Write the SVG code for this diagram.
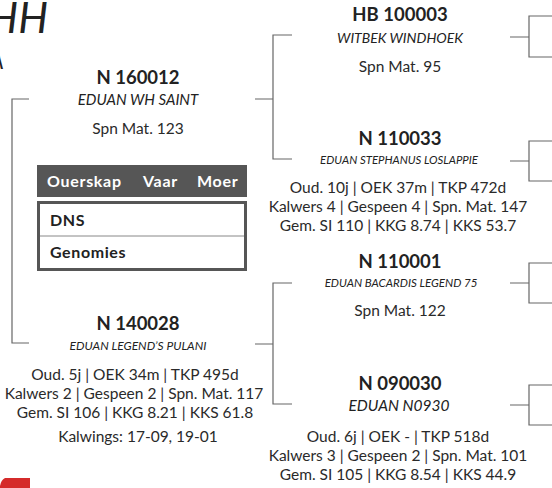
<svg xmlns="http://www.w3.org/2000/svg" width="552" height="488" viewBox="0 0 552 488">
<style>
text{font-family:Lato,"Liberation Sans",sans-serif;fill:#222;}
.t{font-size:18.5px;font-weight:700;text-anchor:middle;}
.n{font-style:italic;text-anchor:middle;font-weight:400;}
.s{font-size:15.5px;text-anchor:middle;fill:#2a2a2a;}
.c{fill:none;stroke:#666;stroke-width:1.2;}
.h{font-size:16px;font-weight:700;fill:#fff;letter-spacing:0.7px;}
.r{font-size:16px;font-weight:700;fill:#222;letter-spacing:0.6px;}
</style>
<rect width="552" height="488" fill="#fff"/>
<text x="48" y="33" font-size="42" font-style="italic" font-weight="400" text-anchor="end">HH</text>
<text x="4" y="69" font-size="22" font-style="italic" font-weight="400" text-anchor="end">A</text>
<g id="logo"><rect x="0" y="478" width="30" height="10" fill="#d52b2b"/><path d="M0,478 H5 Q1,480 0,486 Z" fill="#fff"/></g>
<g id="connectors">
<path class="c" d="M29,99 H12 V343 H29"/>
<path class="c" d="M255,99 H273 M292,35 H273 V159 H292"/>
<path class="c" d="M255,344 H273 M292,283 H273 V404 H292"/>
<path class="c" d="M510,37 H529 M552,16 H529 V57 H552"/>
<path class="c" d="M510,161 H529 M552,141 H529 V181 H552"/>
<path class="c" d="M510,283 H529 M552,263 H529 V303 H552"/>
<path class="c" d="M510,405 H529 M552,385 H529 V425 H552"/>
</g>
<g id="n160012">
<text class="t" x="138" y="84">N 160012</text>
<text class="n" x="138" y="105" font-size="15">EDUAN WH SAINT</text>
<text class="s" x="138" y="134">Spn Mat. 123</text>
</g>
<g id="ouerskap">
<rect x="37" y="165" width="210" height="32" fill="#565656"/>
<text class="h" x="47" y="187">Ouerskap</text>
<text class="h" x="143" y="187">Vaar</text>
<text class="h" x="197" y="187">Moer</text>
<rect x="38.5" y="202.5" width="207" height="67" fill="#fff" stroke="#565656" stroke-width="3"/>
<line x1="40" y1="236" x2="244" y2="236" stroke="#888" stroke-width="1"/>
<text class="r" x="50" y="226">DNS</text>
<text class="r" x="50" y="258">Genomies</text>
</g>
<g id="n140028">
<text class="t" x="138" y="330">N 140028</text>
<text class="n" x="138" y="350" font-size="12">EDUAN LEGEND’S PULANI</text>
<text class="s" x="135" y="380">Oud. 5j | OEK 34m | TKP 495d</text>
<text class="s" x="134" y="399">Kalwers 2 | Gespeen 2 | Spn. Mat. 117</text>
<text class="s" x="135" y="418">Gem. SI 106 | KKG 8.21 | KKS 61.8</text>
<text class="s" x="138" y="442">Kalwings: 17-09, 19-01</text>
</g>
<g id="hb100003">
<text class="t" x="400" y="21">HB 100003</text>
<text class="n" x="400" y="43" font-size="14">WITBEK WINDHOEK</text>
<text class="s" x="400" y="72">Spn Mat. 95</text>
</g>
<g id="n110033">
<text class="t" x="400" y="145">N 110033</text>
<text class="n" x="399" y="164" font-size="11.4">EDUAN STEPHANUS LOSLAPPIE</text>
<text class="s" x="398" y="193">Oud. 10j | OEK 37m | TKP 472d</text>
<text class="s" x="398" y="212">Kalwers 4 | Gespeen 4 | Spn. Mat. 147</text>
<text class="s" x="398" y="231">Gem. SI 110 | KKG 8.74 | KKS 53.7</text>
</g>
<g id="n110001">
<text class="t" x="400" y="268">N 110001</text>
<text class="n" x="401" y="287" font-size="11.5">EDUAN BACARDIS LEGEND 75</text>
<text class="s" x="400" y="316">Spn Mat. 122</text>
</g>
<g id="n090030">
<text class="t" x="400" y="390">N 090030</text>
<text class="n" x="399" y="411" font-size="15.5">EDUAN N0930</text>
<text class="s" x="398" y="442">Oud. 6j | OEK - | TKP 518d</text>
<text class="s" x="398" y="461">Kalwers 3 | Gespeen 2 | Spn. Mat. 101</text>
<text class="s" x="398" y="480">Gem. SI 105 | KKG 8.54 | KKS 44.9</text>
</g>
</svg>
